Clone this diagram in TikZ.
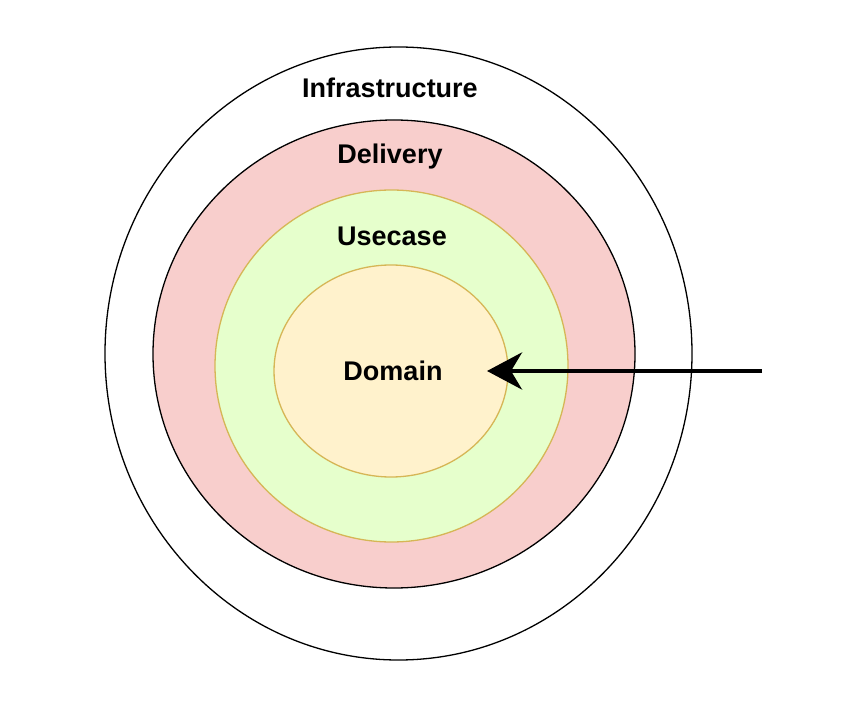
\documentclass[tikz,border=0pt]{standalone}
\usepackage{fontspec}
\setmainfont{Liberation Sans}
\usetikzlibrary{shapes.geometric,arrows.meta}
\definecolor{deliveryfill}{HTML}{F8CECC}
\definecolor{usecasefill}{HTML}{E6FFCC}
\definecolor{domainfill}{HTML}{FFF2CC}
\definecolor{ringline}{HTML}{D6B656}

\begin{document}
\begin{tikzpicture}[x=1pt, y=-1pt,
    ring/.style={ellipse, inner sep=0pt, line width=1.3pt},
    ringtext/.style={font=\fontsize{27}{32}\selectfont\bfseries},
    push/.style={line width=4.5pt, -{Stealth[length=35pt, width=37pt, inset=11pt]}}]
            \useasboundingbox (0, 0) rectangle (844, 714);
            \node[ring, draw=black, fill=white, minimum width=587pt, minimum height=613pt] (infra) at (398.5, 353.5) {};
            \node[ring, draw=black, fill=deliveryfill, minimum width=482pt, minimum height=468pt] (delivery) at (394, 354) {};
            \node[ring, draw=ringline, fill=usecasefill, minimum width=353pt, minimum height=352pt] (usecase) at (391.5, 366) {};
            \node[ring, draw=ringline, fill=domainfill, minimum width=234pt, minimum height=212pt] (domain) at (391, 371) {};

            \node[ringtext] (infraText) at (390, 88) {Infrastructure};
            \node[ringtext] (deliveryText) at (390, 157) {Delivery};
            \node[ringtext] (usecaseText) at (392, 236) {Usecase};
            \node[ringtext] (domainText) at (393, 371) {Domain};

            \coordinate (outside) at (762, 371);
            \coordinate (hit) at (487, 371);
            \draw[push] (outside) to (hit);
          \end{tikzpicture}
\end{document}
